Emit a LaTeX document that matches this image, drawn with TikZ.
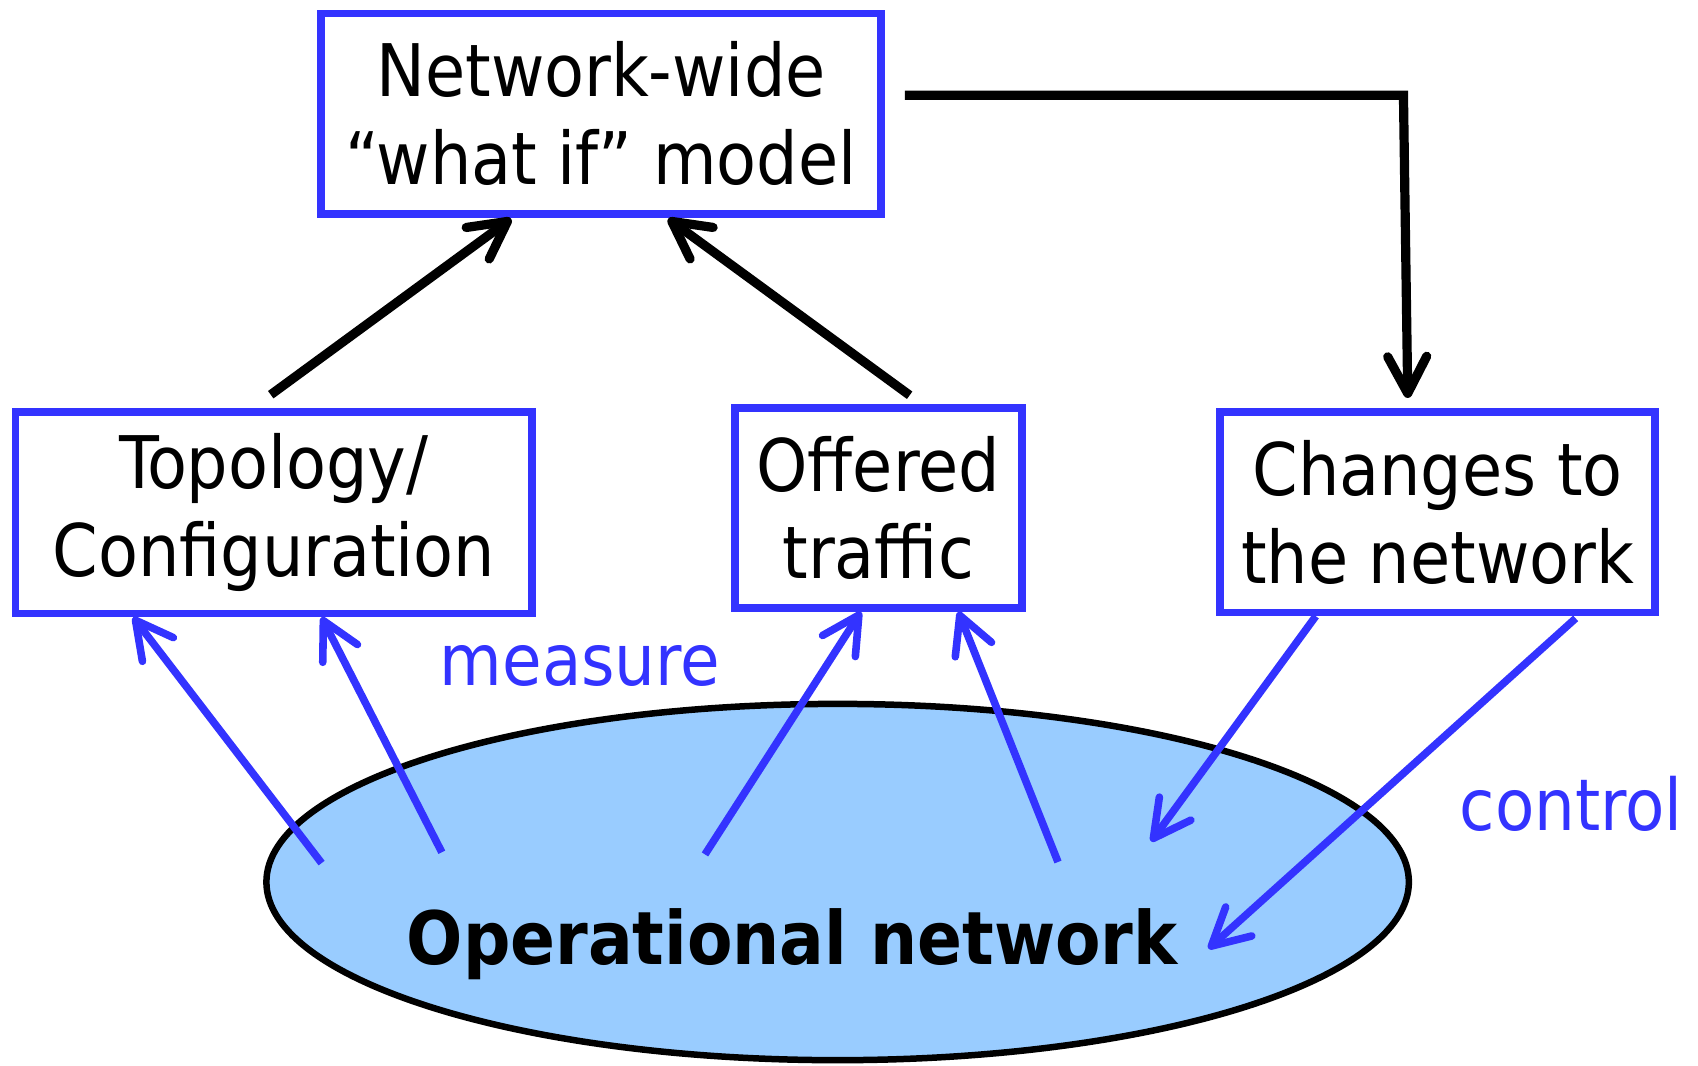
\documentclass[tikz,border=0pt]{standalone}
\usepackage{fontspec}
\IfFontExistsTF{DejaVu Sans Condensed}
  {\setmainfont{DejaVu Sans Condensed}}
  {\setmainfont[FakeStretch=0.9]{DejaVu Sans}}
\usetikzlibrary{arrows.meta,shapes.geometric}
\definecolor{linkblue}{RGB}{51,51,255}
\definecolor{netfill}{RGB}{153,204,255}

\begin{document}
\begin{tikzpicture}[x=1pt,y=-1pt,
  box/.style={draw=linkblue, line width=7pt, rectangle, inner sep=0pt,
    align=center, font=\fontsize{67}{81}\selectfont},
  tip/.style={-{Straight Barb[length=34pt,width=36pt,round]}},
  flow/.style={tip, line width=8.5pt},
  probe/.style={tip, draw=linkblue, line width=7pt},
  tag/.style={text=linkblue, font=\fontsize{66}{78}\selectfont,
    inner sep=0pt, anchor=base west}]
\useasboundingbox (0,0) rectangle (1568,984);

% the network being operated
\node[ellipse, draw=black, fill=netfill, line width=6pt, inner sep=0pt,
  minimum width=1055pt, minimum height=329pt] (net) at (773.5,814.5) {};
\node[inner sep=0pt, anchor=base, font=\fontsize{68}{80}\selectfont\bfseries]
  (netlabel) at (731.5,891) {Operational network};

% boxes
\node[box, minimum width=517pt, minimum height=185pt] (wi) at (555,105)
  {Network-wide\\“what if” model};
\node[box, minimum width=477pt, minimum height=186pt] (topo) at (253,473.5)
  {Topology/\\Configuration};
\node[box, minimum width=265pt, minimum height=185pt] (off) at (811,469)
  {Offered\\traffic};
\node[box, minimum width=402pt, minimum height=185pt] (chg) at (1327.5,473)
  {Changes to\\the network};

% labels
\node[tag] (measure) at (406,633) {measure};
\node[tag] (control) at (1348,767) {control};

% model inputs
\draw[flow] ([xshift=-3pt,yshift=12.5pt]topo.north) -- ([xshift=-83pt,yshift=-1pt]wi.south);
\draw[flow] ([xshift=29pt,yshift=8pt]off.north) -- ([xshift=62pt,yshift=-1pt]wi.south);
% model output to changes
\coordinate (bend) at (1296,88);
\draw[flow] ([xshift=18.5pt,yshift=17pt]wi.east) -- (bend) -- ([xshift=-27.5pt,yshift=9.5pt]chg.north);

% measurements
\draw[probe] ([xshift=-476.5pt,yshift=17.5pt]net.center) -- ([xshift=-130pt]topo.south);
\draw[probe] ([xshift=-365.5pt,yshift=27.5pt]net.center) -- ([xshift=44pt]topo.south);
\draw[probe] ([xshift=-122.5pt,yshift=25.5pt]net.center) -- ([xshift=-16pt]off.south);
\draw[probe] ([xshift=203.5pt,yshift=18.5pt]net.center) -- ([xshift=74pt]off.south);

% control actions
\draw[probe] ([xshift=-112.5pt]chg.south) -- ([xshift=289.5pt,yshift=37.5pt]net.center);
\draw[probe] ([xshift=127.5pt,yshift=-2pt]chg.south) -- ([xshift=342.5pt,yshift=-61.5pt]net.center);
\end{tikzpicture}
\end{document}
